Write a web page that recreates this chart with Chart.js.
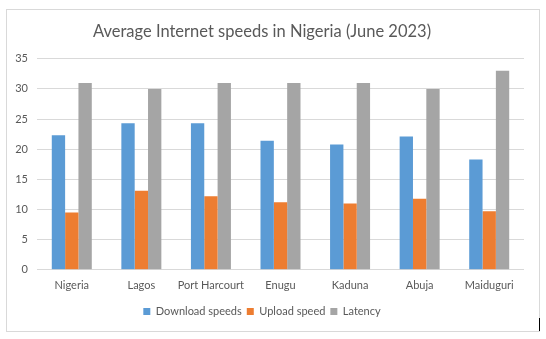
<!DOCTYPE html>
<html><head><meta charset="utf-8">
<script src="https://cdn.jsdelivr.net/npm/chart.js@4"></script>
<style>
html,body{margin:0;padding:0;background:#fff;}
#wrap{position:relative;width:546px;height:339px;}
#frame{position:absolute;left:6px;top:9px;width:532px;height:321px;border:1px solid #d9d9d9;pointer-events:none;}
#mark{position:absolute;left:539px;top:318px;width:1px;height:13px;background:#000;}
canvas{position:absolute;left:0;top:0;}
</style></head>
<body><div id="wrap"><canvas id="c" width="546" height="339"></canvas><div id="frame"></div><div id="mark"></div></div>
<script>
const categories = ["Nigeria","Lagos","Port Harcourt","Enugu","Kaduna","Abuja","Maiduguri"];
const downloadSpeeds = [22.3,24.3,24.3,21.4,20.8,22.1,18.3];
const uploadSpeed = [9.5,13.1,12.2,11.2,11.0,11.8,9.7];
const latency = [31,30,31,31,31,30,33];
const yTicks = [0,5,10,15,20,25,30,35];
const FONT = "Lato";
new Chart(document.getElementById('c'), {
  type:'bar',
  data:{labels:categories,datasets:[
    {label:"Download speeds",data:downloadSpeeds,backgroundColor:"#5b9bd5"},
    {label:"Upload speed",data:uploadSpeed,backgroundColor:"#ed7d31"},
    {label:"Latency",data:latency,backgroundColor:"#a5a5a5"}
  ]},
  options:{
    responsive:false,animation:false,
    layout:{padding:{left:0,right:22,top:0,bottom:12}},
    datasets:{bar:{categoryPercentage:0.575,barPercentage:1.0}},
    plugins:{
      title:{display:true,text:"Average Internet speeds in Nigeria (June 2023)",color:"#595959",
        font:{family:FONT,size:16.5,weight:'normal'},padding:{top:22,bottom:17}},
      legend:{position:'bottom',labels:{color:"#595959",font:{family:FONT,size:11},boxWidth:7,boxHeight:7,padding:5}},
      tooltip:{enabled:false}
    },
    scales:{
      x:{grid:{display:false,drawTicks:false},border:{display:false},
        ticks:{color:"#595959",font:{family:FONT,size:11},padding:9,maxRotation:0,autoSkip:false}},
      y:{min:0,max:35,afterBuildTicks:s=>{s.ticks=yTicks.map(v=>({value:v}));},
        afterFit:s=>{s.width=37;},
        grid:{color:"#d9d9d9",drawTicks:false},border:{display:false},
        ticks:{color:"#595959",font:{family:FONT,size:11},padding:9}}
    }
  }
});
</script></body></html>
